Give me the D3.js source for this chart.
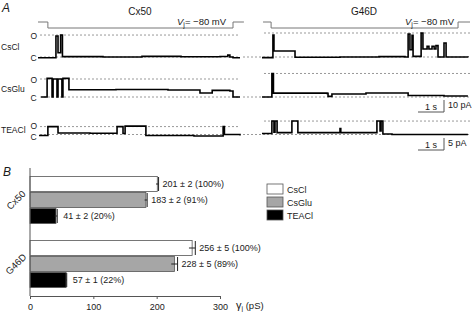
<!DOCTYPE html>
<html>
<head>
<meta charset="utf-8">
<script src="https://cdn.jsdelivr.net/npm/d3@7"></script>
<style>
  body { margin: 0; background: #fff; }
  svg { display: block; font-family: "Liberation Sans", Arial, sans-serif; }
</style>
</head>
<body>
<svg id="fig" width="472" height="312"></svg>
<script>
// ---- panel A: records as [time (s), current (pA)] at each level change ----
const cx50CsCl = [[0, -0.6], [0.69, 17.5], [0.77, 3.5], [0.87, 18.3], [0.94, 0.3], [2.5, 0], [4.0, 0.5],
    [5.5, 0.2], [7.0, 0.4], [7.3, 1.6], [7.38, 0], [7.5, -0.6], [7.77, -0.6]];
const g46dCsCl = [[0, -0.5], [0.42, 18.3], [0.46, 5], [1.27, -0.2], [3, 0], [4.5, 0.3], [5.5, 0],
    [5.62, 19.2], [5.69, 6], [5.77, 18], [5.81, 0.5], [6.12, 20], [6.19, 6.7], [6.35, 9], [6.42, 6.7],
    [6.54, 9], [6.62, 6.7], [6.69, 9.5], [6.77, 0], [7.0, 11.7], [7.08, 0], [7.92, -0.3]];
const cx50CsGlu = [[0.12, 0], [0.35, 15.5], [0.54, 0], [0.58, 15], [0.73, 0], [0.77, 15], [0.92, 0],
    [0.96, 15.5], [1.19, 6], [3, 6.2], [5, 5.8], [6.23, 3.3], [6.7, 5.5], [7.38, 5], [7.5, 0], [7.77, 0]];
const g46dCsGlu = [[0, 0], [0.38, 19.6], [0.44, 3.2], [2.5, 3], [2.54, 0.5], [2.69, 2.5], [4, 3.3],
    [5.62, 1.3], [7.0, 0.8], [7.92, 0.8]];
const cx50TEACl = [[0.04, -0.4], [0.38, 3.3], [0.77, 0.6], [2, 0.5], [3.04, 3.3], [3.27, 0.4], [3.35, 3.5],
    [4.15, -0.4], [6, -0.6], [7.12, 3.3], [7.17, 0], [7.77, -0.4]];
const g46dTEACl = [[0, 0.4], [0.38, 5.6], [0.46, 1], [0.5, 5.6], [0.58, 0.8], [1.15, 5.6], [1.38, 0.8],
    [3.0, 2.5], [3.03, 0.8], [4.42, 5.6], [4.54, 1.5], [4.58, 5.6], [4.65, 0.2], [5, 0], [7.92, 0]];

const rowNames = ["CsCl", "CsGlu", "TEACl"];
const cx50Open = [18.3, 15, 3.3];
const g46dOpen = [20, 19.6, 5.6];
const rowBar = [10, 10, 5];          // pA per scale bar
const protoCx50 = [[0, 0], [0.38, -80], [7.5, 0], [7.92, 0]];
const protoG46D = [[0.04, 0], [0.35, -80], [7.54, 0], [8.0, 0]];

// ---- panel B: unitary conductance ----
const constructs = ["Cx50", "G46D"];
const solutions = ["CsCl", "CsGlu", "TEACl"];
const cx50Gj = [201, 183, 41];
const cx50Err = [2, 2, 2];
const cx50Pct = [100, 91, 20];
const g46dGj = [256, 228, 57];
const g46dErr = [5, 5, 1];
const g46dPct = [100, 89, 22];
const xTicks = [0, 100, 200, 300];

const svg = d3.select("#fig");
const ink = "#1a1a1a";

// panel letters
svg.append("text").attr("x", 2).attr("y", 12).attr("font-size", 12)
    .attr("font-style", "italic").attr("fill", ink).text("A");
svg.append("text").attr("x", 3).attr("y", 176).attr("font-size", 12)
    .attr("font-style", "italic").attr("fill", ink).text("B");

// ---------------- panel A ----------------
const panels = [
    { name: "Cx50", x: d3.scaleLinear().domain([0, 1]).range([38, 64]), traces: [cx50CsCl, cx50CsGlu, cx50TEACl],
      open: cx50Open, proto: protoCx50, dashO: [40, 240], dashC: [40, 240], title: 140, vj: 177 },
    { name: "G46D", x: d3.scaleLinear().domain([0, 1]).range([262, 288]), traces: [g46dCsCl, g46dCsGlu, g46dTEACl],
      open: g46dOpen, proto: protoG46D, dashO: [264, 470], dashC: [243, 470], title: 364, vj: 405 }
];
const rowC = [57, 97, 134.5];
const rowY = rowC.map((c, k) => d3.scaleLinear().domain([0, rowBar[k]]).range([c, c - 12]));
const yProto = d3.scaleLinear().domain([0, -80]).range([22, 28]);

panels.forEach(p => {
    const g = svg.append("g");
    g.append("text").attr("x", p.title).attr("y", 15).attr("text-anchor", "middle")
        .attr("font-size", 10).attr("fill", ink).text(p.name);

    g.append("path")
        .attr("d", d3.line().curve(d3.curveStepAfter).x(d => p.x(d[0])).y(d => yProto(d[1]))(p.proto))
        .attr("fill", "none").attr("stroke", "#777").attr("stroke-width", 1);

    const vj = g.append("text").attr("x", p.vj).attr("y", 25).attr("font-size", 9.5).attr("fill", ink);
    vj.append("tspan").attr("font-style", "italic").text("V");
    vj.append("tspan").attr("font-size", 7).attr("dy", 2).text("j");
    vj.append("tspan").attr("dy", -2).text("= \u221280 mV");

    p.traces.forEach((tr, k) => {
        const y = rowY[k];
        g.append("line").attr("x1", p.dashO[0]).attr("x2", p.dashO[1])
            .attr("y1", y(p.open[k])).attr("y2", y(p.open[k]))
            .attr("stroke", "#999").attr("stroke-dasharray", "2,2");
        g.append("line").attr("x1", p.dashC[0]).attr("x2", p.dashC[1])
            .attr("y1", y(0)).attr("y2", y(0))
            .attr("stroke", "#999").attr("stroke-dasharray", "2,2");
        g.append("path")
            .attr("d", d3.line().curve(d3.curveStepAfter).x(d => p.x(d[0])).y(d => y(d[1]))(tr))
            .attr("fill", "none").attr("stroke", "#000").attr("stroke-width", 1.6);
    });
});

// row labels
rowNames.forEach((r, k) => {
    const y = rowY[k];
    const oY = y(cx50Open[k]), cY = y(0);
    svg.append("text").attr("x", 1).attr("y", (oY + cY) / 2 + 3.5 - (k === 2 ? 1 : 0))
        .attr("font-size", 8.5).attr("fill", ink).text(r);
    svg.append("text").attr("x", 30.5).attr("y", oY + (k === 2 ? 2 : 3.5))
        .attr("font-size", 8.5).attr("fill", ink).text("O");
    svg.append("text").attr("x", 30.5).attr("y", cY + (k === 2 ? 5 : 3.5))
        .attr("font-size", 8.5).attr("fill", ink).text("C");
});

// scale bars (G46D panel)
[1, 2].forEach(k => {
    const xs = panels[1].x, y = rowY[k];
    const base = k === 1 ? 112 : 150;
    const h = y(0) - y(rowBar[k]);
    svg.append("path")
        .attr("d", `M${xs(6)},${base}H${xs(7)}V${base - h}`)
        .attr("fill", "none").attr("stroke", "#555").attr("stroke-width", 1);
    svg.append("text").attr("x", (xs(6) + xs(7)) / 2).attr("y", base - 2).attr("text-anchor", "middle")
        .attr("font-size", 9).attr("fill", ink).text("1 s");
    svg.append("text").attr("x", xs(7) + 4).attr("y", base - 4)
        .attr("font-size", 9).attr("fill", ink).text(rowBar[k] + " pA");
});

// ---------------- panel B ----------------
const x = d3.scaleLinear().domain([0, 300]).range([30, 220]);
const yGroup = d3.scaleBand().domain(constructs).range([168, 296]).paddingInner(0.25).paddingOuter(0.125);
const ySol = d3.scaleBand().domain(solutions).range([0, yGroup.bandwidth()]);
const fill = d3.scaleOrdinal().domain(solutions).range(["#ffffff", "#a6a6a6", "#000000"]);

const rows = [];
constructs.forEach((c, ci) => {
    const gj = ci === 0 ? cx50Gj : g46dGj;
    const err = ci === 0 ? cx50Err : g46dErr;
    const pct = ci === 0 ? cx50Pct : g46dPct;
    solutions.forEach((s, si) => rows.push({ c, s, v: gj[si], e: err[si], p: pct[si] }));
});

const bars = svg.append("g").selectAll("g").data(rows).join("g")
    .attr("transform", d => `translate(0,${yGroup(d.c) + ySol(d.s)})`);
bars.append("rect")
    .attr("x", x(0)).attr("y", 0.5)
    .attr("width", d => x(d.v) - x(0)).attr("height", ySol.bandwidth() - 1)
    .attr("fill", d => fill(d.s)).attr("stroke", "#555").attr("stroke-width", 0.8);
bars.append("path")
    .attr("d", d => {
        const m = ySol.bandwidth() / 2;
        return `M${x(d.v - d.e)},${m}H${x(d.v + d.e)}M${x(d.v + d.e)},${m - 7}V${m + 7}`;
    })
    .attr("stroke", "#222").attr("stroke-width", 1);
bars.append("text")
    .attr("x", d => x(d.v + d.e) + (d.s === "TEACl" ? 6 : 4)).attr("y", ySol.bandwidth() / 2 + 3)
    .attr("font-size", 9).attr("fill", ink)
    .text(d => `${d.v} \u00b1 ${d.e} (${d.p}%)`);

// axes
svg.append("line").attr("x1", 30).attr("x2", 30).attr("y1", 168).attr("y2", 296)
    .attr("stroke", "#555");
const xAxis = svg.append("g").attr("transform", "translate(0,296)")
    .call(d3.axisBottom(x).tickValues(xTicks).tickSize(3).tickSizeOuter(0));
xAxis.select(".domain").attr("stroke", "#555");
xAxis.selectAll(".tick line").attr("stroke", "#555");
xAxis.selectAll(".tick text").attr("font-size", 9).attr("fill", ink)
    .attr("font-family", "Liberation Sans, Arial, sans-serif").attr("dy", "0.9em");

const xl = svg.append("text").attr("x", 236).attr("y", 309).attr("font-size", 9.5).attr("fill", ink);
xl.append("tspan").attr("font-size", 11).text("\u03b3");
xl.append("tspan").attr("font-size", 7).attr("dy", 2).text("j");
xl.append("tspan").attr("dy", -2).text(" (pS)");

constructs.forEach(c => {
    const cy = yGroup(c) + yGroup.bandwidth() / 2;
    svg.append("text").attr("transform", `translate(16,${cy}) rotate(-45)`)
        .attr("text-anchor", "middle").attr("dy", "0.35em")
        .attr("font-size", 9.5).attr("fill", ink).text(c);
});

// legend
solutions.forEach((s, i) => {
    const ly = 184 + i * 13;
    svg.append("rect").attr("x", 267).attr("y", ly).attr("width", 16).attr("height", 10)
        .attr("fill", fill(s)).attr("stroke", "#555").attr("stroke-width", 0.8);
    svg.append("text").attr("x", 287).attr("y", ly + 8.5).attr("font-size", 9).attr("fill", ink).text(s);
});
</script>
</body>
</html>
